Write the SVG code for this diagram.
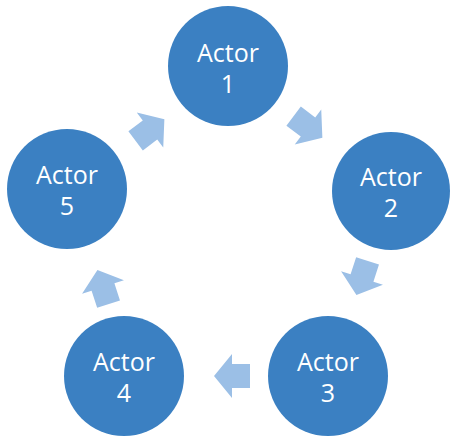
<svg xmlns="http://www.w3.org/2000/svg" width="453" height="441" viewBox="0 0 453 441">
  <defs>
    <style>
      .node { fill: #3b80c2; }
      .label { fill: #ffffff; font-family: "Open Sans", "Liberation Sans", sans-serif; font-size: 25px; text-anchor: middle; }
      .arrow { fill: #9bbfe6; }
    </style>
    <polygon id="blockArrow" points="-18,-12 0,-12 0,-22 18,0 0,22 0,12 -18,12"/>
  </defs>
  <rect width="453" height="441" fill="#ffffff"/>
  <g id="connectors">
    <use href="#blockArrow" class="arrow" transform="translate(150,130) rotate(-37)"/>
    <use href="#blockArrow" class="arrow" transform="translate(308,127) rotate(37)"/>
    <use href="#blockArrow" class="arrow" transform="translate(362,278) rotate(108)"/>
    <use href="#blockArrow" class="arrow" transform="translate(232,376) rotate(180)"/>
    <use href="#blockArrow" class="arrow" transform="translate(103,287) rotate(-108)"/>
  </g>
  <g id="actor1">
    <circle class="node" cx="228" cy="66" r="60"/>
    <text class="label" x="228" y="62">Actor</text>
    <text class="label" x="228" y="93">1</text>
  </g>
  <g id="actor2">
    <circle class="node" cx="391" cy="191" r="59"/>
    <text class="label" x="391" y="186">Actor</text>
    <text class="label" x="391" y="217">2</text>
  </g>
  <g id="actor3">
    <circle class="node" cx="328" cy="376" r="60"/>
    <text class="label" x="328" y="371">Actor</text>
    <text class="label" x="328" y="402">3</text>
  </g>
  <g id="actor4">
    <circle class="node" cx="124" cy="376" r="60"/>
    <text class="label" x="124" y="371">Actor</text>
    <text class="label" x="124" y="402">4</text>
  </g>
  <g id="actor5">
    <circle class="node" cx="67" cy="189" r="60"/>
    <text class="label" x="67" y="184">Actor</text>
    <text class="label" x="67" y="215">5</text>
  </g>
</svg>
